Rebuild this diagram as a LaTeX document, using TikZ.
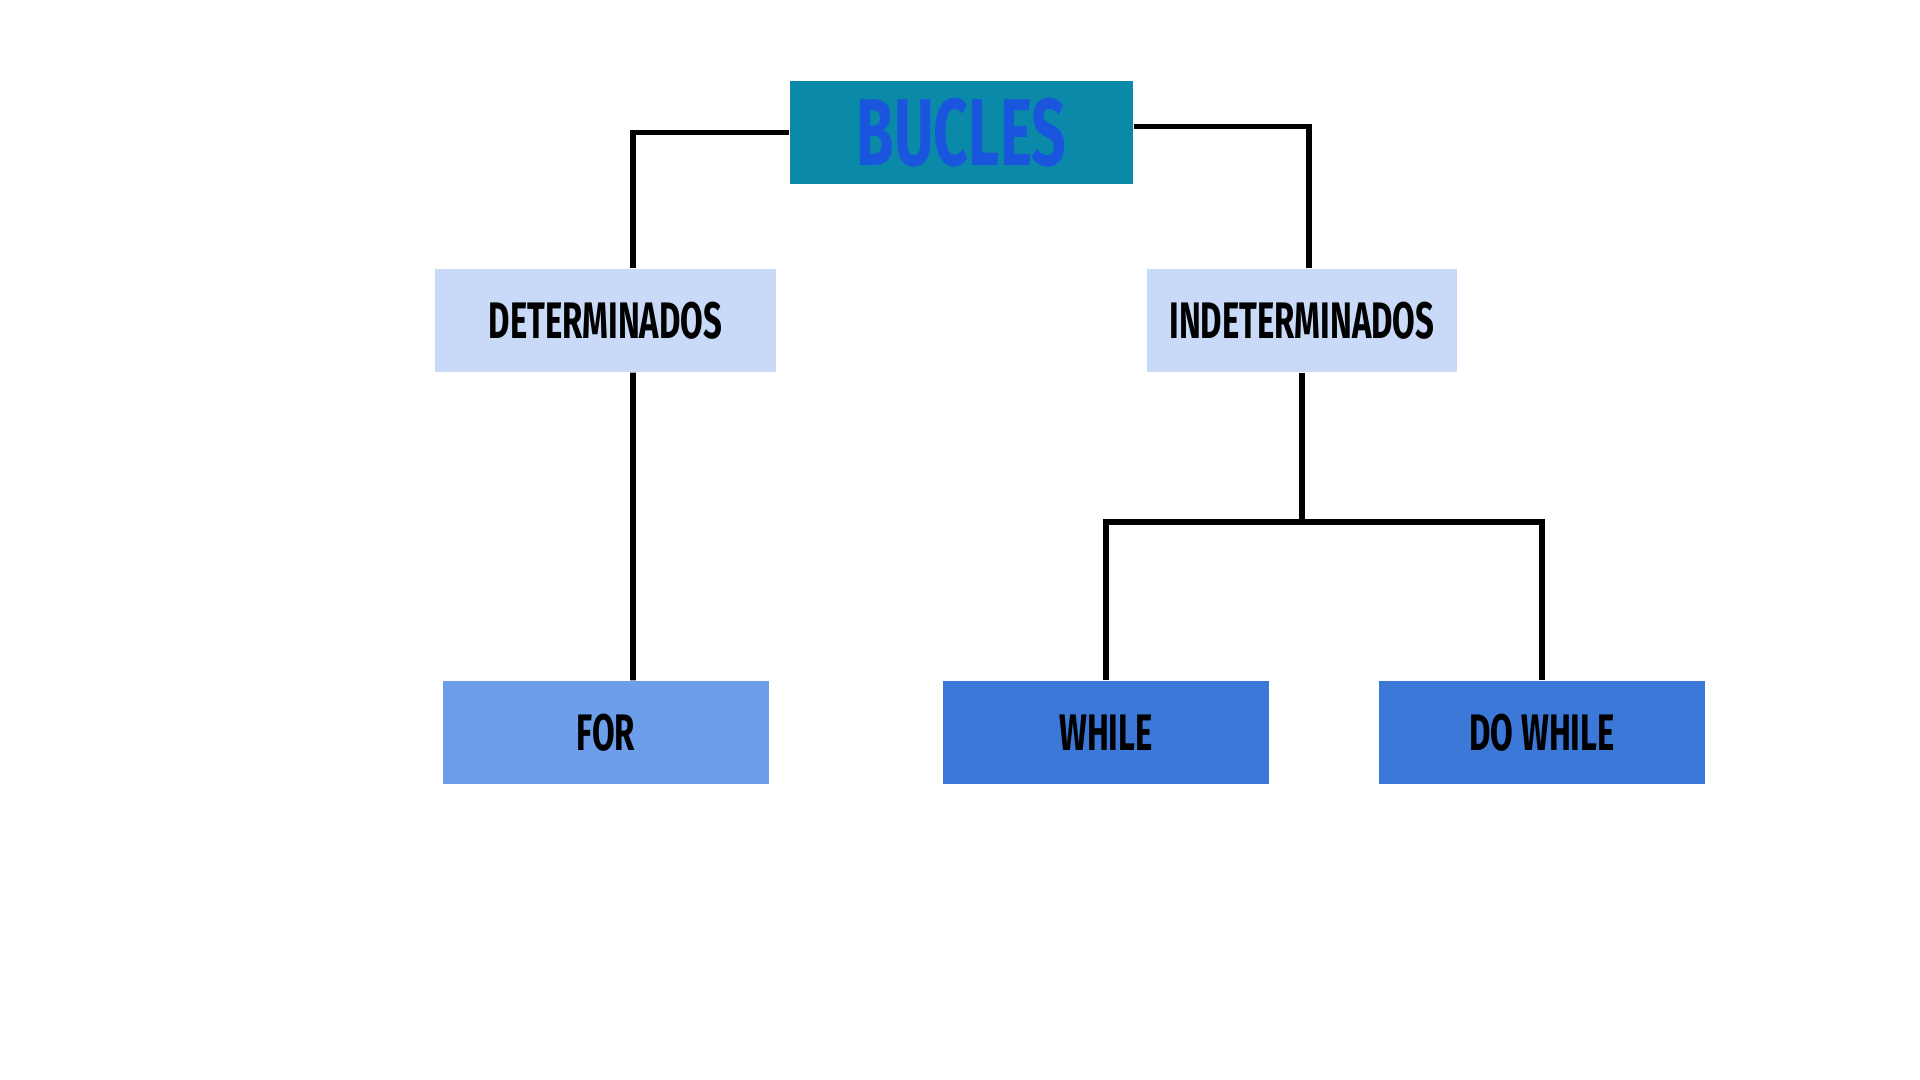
\documentclass[tikz,border=0pt]{standalone}
\usepackage{fontspec}
\setmainfont{Fira Sans}[FakeStretch=0.64]
\definecolor{bucleteal}{HTML}{0A8AA8}
\definecolor{bucleblue}{HTML}{1A55DD}
\definecolor{palebox}{HTML}{C9DAF8}
\definecolor{midbox}{HTML}{6D9EEB}
\definecolor{darkbox}{HTML}{3C78D8}

\begin{document}
\begin{tikzpicture}[x=0.01cm,y=-0.01cm,every node/.style = {align=center, inner sep=0pt, font=\bfseries\fontsize{14.6}{16}\selectfont},
box/.style = {shape=rectangle, minimum height=1.03cm},
conn/.style = {draw=black, line width=1.6pt}]
\useasboundingbox[fill=white] (0,0) rectangle (1920,1080);
\node[box, fill=bucleteal, minimum width=3.43cm, text=bucleblue, font=\bfseries\fontsize{27}{30}\selectfont] (bucles) at (961.5,132.5) {BUCLES};
\node[box, fill=palebox, minimum width=3.41cm] (det) at (605.5,320.5) {DETERMINADOS};
\node[box, fill=palebox, minimum width=3.10cm] (indet) at (1302,320.5) {INDETERMINADOS};
\node[box, fill=midbox, minimum width=3.26cm] (for) at (606,732.5) {FOR};
\node[box, fill=darkbox, minimum width=3.26cm] (while) at (1106,732.5) {WHILE};
\node[box, fill=darkbox, minimum width=3.26cm] (dowhile) at (1542,732.5) {DO WHILE};
\coordinate (split) at (1302,522);
% connectors
\draw[conn] (bucles.west) -| ([xshift=2.75mm]det.north);
\draw[conn] ([yshift=0.6mm]bucles.east) -| ([xshift=0.7mm]indet.north);
\draw[conn] ([xshift=2.75mm]det.south) -- ([xshift=2.7mm]for.north);
\draw[conn] (indet.south) -- (split);
\draw[conn] (while.north) |- (split) -| (dowhile.north);
\end{tikzpicture}
\end{document}
